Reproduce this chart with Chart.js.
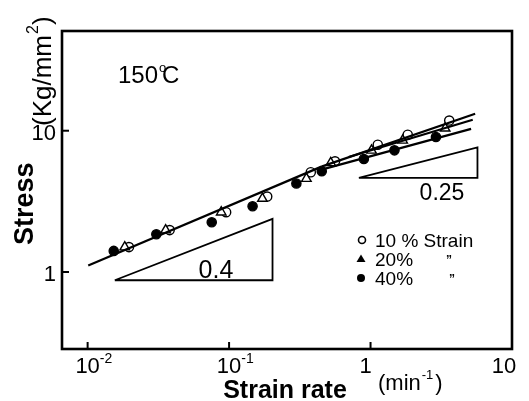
<!DOCTYPE html>
<html>
<head>
<meta charset="utf-8">
<script src="https://cdn.jsdelivr.net/npm/chart.js@4/dist/chart.umd.min.js"></script>
<style>
  html, body { margin: 0; padding: 0; background: #fff; }
  canvas { display: block; }
</style>
</head>
<body>
<canvas id="stressChart" width="529" height="401"></canvas>
<script>
// =============================
// Data
// =============================

// 10 % strain (open circles)
const rate10 = [0.0196, 0.038, 0.0953, 0.186, 0.378, 0.561, 1.125, 1.832, 3.6];
const stress10 = [1.50, 1.98, 2.65, 3.42, 5.08, 6.07, 7.96, 9.37, 11.8];

// 20 % strain (open triangles)
const rate20 = [0.0183, 0.0356, 0.088, 0.172, 0.352, 0.523, 1.016, 1.687, 3.37];
const stress20 = [1.50, 1.98, 2.65, 3.31, 4.58, 5.92, 7.26, 8.55, 10.4];

// 40 % strain (filled circles)
const rate40 = [0.0153, 0.0306, 0.0754, 0.1466, 0.299, 0.452, 0.897, 1.476, 2.9];
const stress40 = [1.41, 1.85, 2.25, 2.92, 4.23, 5.16, 6.31, 7.26, 9.03];

// fitted lines
const lineCommonX = [0.0101, 0.45];
const lineCommonY = [1.11, 5.57];
const line10X = [0.45, 5.49];
const line10Y = [5.57, 13.2];
const line20X = [0.7, 5.28];
const line20Y = [6.52, 11.96];
const line40X = [0.45, 5.14];
const line40Y = [5.3, 10.3];

// slope triangles
const slopeAX = [0.01556, 0.2028, 0.2028, 0.01556];
const slopeAY = [0.874, 0.874, 2.38, 0.874];
const slopeBX = [0.827, 5.70, 5.70, 0.827];
const slopeBY = [4.64, 4.64, 7.63, 4.64];
const slopeLabels = ["0.4", "0.25"];

// axes
const xTickValues = [0.01, 0.1, 1, 10];
const xTickBase = ["10", "10", "1", "10"];
const xTickExp = ["-2", "-1", "", ""];
const yTickValues = [1, 10];
const yTickLabels = ["1", "10"];

const legendLabels = ["10 % Strain", "20%", "40%"];


// =============================
// Helpers
// =============================

const FONT = "'Liberation Sans', Arial, sans-serif";

function toPoints(xs, ys) {
    return xs.map((x, i) => ({ x: x, y: ys[i] }));
}

function lineSet(xs, ys, width) {
    return {
        data: toPoints(xs, ys),
        showLine: true,
        borderColor: "#000",
        borderWidth: width,
        pointRadius: 0,
        fill: false,
        tension: 0
    };
}

function markerSet(xs, ys, style, filled) {
    return {
        data: toPoints(xs, ys),
        showLine: false,
        pointStyle: style,
        pointRadius: style === "triangle" ? 5.5 : 4.6,
        pointBorderWidth: 1.4,
        pointBorderColor: "#000",
        pointBackgroundColor: filled ? "#000" : "#fff"
    };
}


// =============================
// Frame, ticks and texts
// =============================

const decor = {

    id: "decor",

    afterDraw(chart) {

        const ctx = chart.ctx;
        const a = chart.chartArea;
        const xs = chart.scales.x;
        const ys = chart.scales.y;

        ctx.save();
        ctx.strokeStyle = "#000";
        ctx.fillStyle = "#000";

        // frame
        ctx.lineWidth = 2.6;
        ctx.strokeRect(a.left, a.top, a.right - a.left, a.bottom - a.top);

        // inward tick marks
        ctx.lineWidth = 2;
        xTickValues.forEach(v => {
            const px = xs.getPixelForValue(v);
            ctx.beginPath();
            ctx.moveTo(px, a.bottom);
            ctx.lineTo(px, a.bottom - 7);
            ctx.stroke();
        });
        yTickValues.forEach(v => {
            const py = ys.getPixelForValue(v);
            ctx.beginPath();
            ctx.moveTo(a.left, py);
            ctx.lineTo(a.left + 7, py);
            ctx.stroke();
        });

        // x tick labels
        ctx.textBaseline = "alphabetic";
        xTickValues.forEach((v, i) => {
            let px = xs.getPixelForValue(v);
            if (i === 2) px -= 5;
            if (i === 3) px -= 8;
            ctx.font = "22px " + FONT;
            ctx.textAlign = "center";
            ctx.fillText(xTickBase[i], px, 373);
            if (xTickExp[i]) {
                const w = ctx.measureText(xTickBase[i]).width;
                ctx.font = "14px " + FONT;
                ctx.textAlign = "left";
                ctx.fillText(xTickExp[i], px + w / 2, 363);
            }
        });

        // y tick labels
        ctx.font = "22px " + FONT;
        ctx.textAlign = "right";
        ctx.textBaseline = "middle";
        yTickValues.forEach((v, i) => {
            ctx.fillText(yTickLabels[i], 56, ys.getPixelForValue(v) + 3);
        });

        // x title
        ctx.textBaseline = "alphabetic";
        ctx.textAlign = "center";
        ctx.font = "bold 25px " + FONT;
        ctx.fillText("Strain rate", 285, 398);

        ctx.textAlign = "left";
        ctx.font = "22px " + FONT;
        ctx.fillText("(min", 378, 390);
        let w = ctx.measureText("(min").width;
        ctx.font = "13px " + FONT;
        ctx.fillText("-1", 378 + w + 1, 379);
        const w2 = ctx.measureText("-1").width;
        ctx.font = "22px " + FONT;
        ctx.fillText(")", 378 + w + w2 + 3, 390);

        // y title (rotated)
        ctx.save();
        ctx.translate(33, 245);
        ctx.rotate(-Math.PI / 2);
        ctx.textAlign = "left";
        ctx.font = "bold 27px " + FONT;
        ctx.fillText("Stress", 0, 0);
        ctx.restore();

        ctx.save();
        ctx.translate(51, 126);
        ctx.rotate(-Math.PI / 2);
        ctx.textAlign = "left";
        ctx.font = "26px " + FONT;
        ctx.fillText("(Kg/mm", 0, 0);
        w = ctx.measureText("(Kg/mm").width;
        ctx.font = "16px " + FONT;
        ctx.fillText("2", w + 1, -13);
        ctx.font = "26px " + FONT;
        ctx.fillText(")", w + 10, 0);
        ctx.restore();

        // temperature
        ctx.font = "24px " + FONT;
        ctx.textAlign = "left";
        ctx.fillText("150", 118, 83);
        w = ctx.measureText("150").width;
        ctx.font = "13px " + FONT;
        ctx.fillText("o", 118 + w + 1, 72);
        ctx.font = "24px " + FONT;
        ctx.fillText("C", 118 + w + 4, 83);

        // slope labels
        ctx.font = "25px " + FONT;
        ctx.textAlign = "center";
        ctx.fillText(slopeLabels[0], 216, 278);
        ctx.font = "23px " + FONT;
        ctx.fillText(slopeLabels[1], 442, 200);

        // legend
        ctx.lineWidth = 1.6;
        ctx.beginPath();
        ctx.arc(362, 240, 3.5, 0, Math.PI * 2);
        ctx.stroke();
        ctx.beginPath();
        ctx.moveTo(361, 254.5);
        ctx.lineTo(365.5, 262);
        ctx.lineTo(356.5, 262);
        ctx.closePath();
        ctx.fill();
        ctx.beginPath();
        ctx.arc(361, 278, 4, 0, Math.PI * 2);
        ctx.fill();

        ctx.font = "19px " + FONT;
        ctx.textAlign = "left";
        ctx.fillText(legendLabels[0], 375, 247);
        ctx.fillText(legendLabels[1], 375, 266);
        ctx.fillText(legendLabels[2], 375, 285);
        ctx.font = "bold 12px " + FONT;
        ctx.fillText("\u201D", 446, 264);
        ctx.fillText("\u201D", 449, 283);

        ctx.restore();
    }

};


// =============================
// Chart
// =============================

new Chart(document.getElementById("stressChart"), {

    type: "scatter",

    data: {
        datasets: [
            lineSet(lineCommonX, lineCommonY, 2.2),
            lineSet(line10X, line10Y, 2.2),
            lineSet(line20X, line20Y, 2.2),
            lineSet(line40X, line40Y, 2.2),
            lineSet(slopeAX, slopeAY, 1.8),
            lineSet(slopeBX, slopeBY, 1.8),
            markerSet(rate40, stress40, "circle", true),
            markerSet(rate20, stress20, "triangle", false),
            markerSet(rate10, stress10, "circle", false)
        ]
    },

    options: {
        responsive: false,
        animation: false,
        layout: {
            padding: { left: 62, top: 31, right: 17, bottom: 52 }
        },
        scales: {
            x: { type: "logarithmic", min: 0.00659, max: 10, display: false },
            y: { type: "logarithmic", min: 0.285, max: 50.8, display: false }
        },
        plugins: {
            legend: { display: false },
            tooltip: { enabled: false }
        }
    },

    plugins: [decor]

});
</script>
</body>
</html>
